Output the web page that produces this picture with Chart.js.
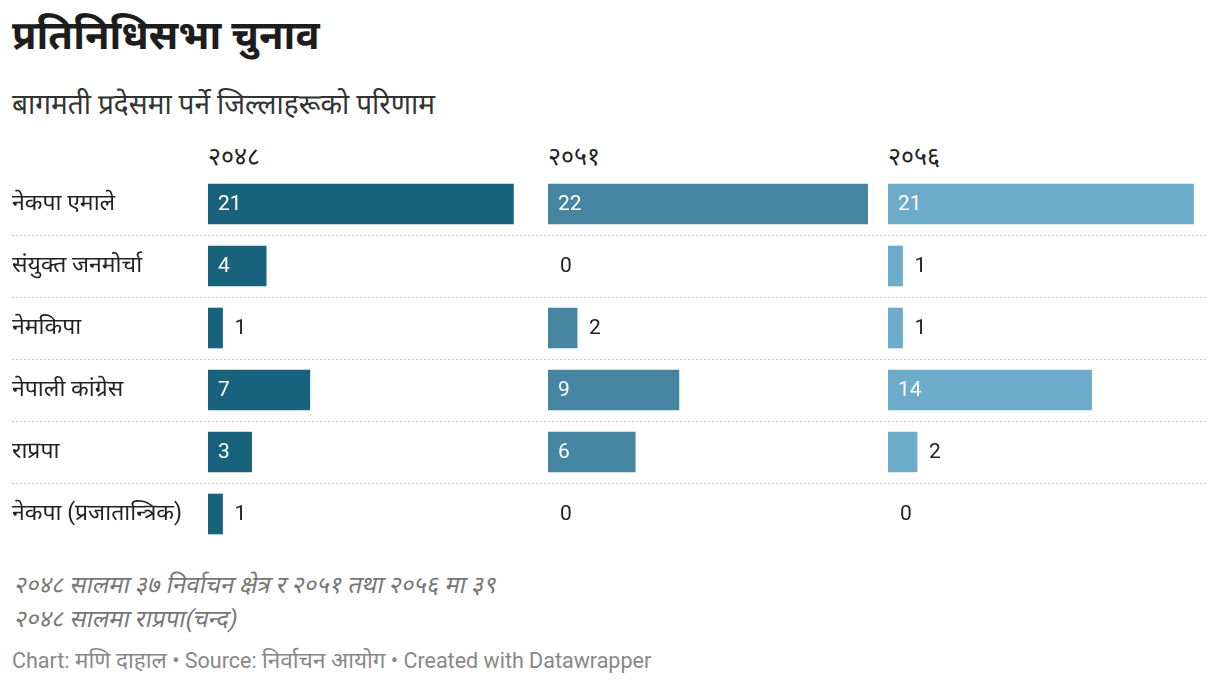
<!DOCTYPE html>
<html>
<head>
<meta charset="utf-8">
<script src="https://cdn.jsdelivr.net/npm/chart.js@4.4.1/dist/chart.umd.min.js"></script>
<style>
  html, body { margin:0; padding:0; background:#fff; width:1220px; height:686px; overflow:hidden; }
  body { font-family: Roboto, "Noto Sans Devanagari", "Noto Sans", sans-serif; color:#222; position:relative; }
  .abs { position:absolute; white-space:nowrap; }
  #title { left:12px; top:10px; font-size:40px; font-weight:700; line-height:52px; color:#1d1d1d; }
  #subtitle { left:12px; top:87px; font-size:28px; line-height:36px; color:#333; }
  .yr { top:142px; font-size:25px; line-height:30px; color:#222; }
  .note { left:12px; font-size:24px; color:#777; line-height:30px; transform: skewX(-12deg); transform-origin: left bottom; }
  #footer { left:12px; top:645px; font-size:21.5px; color:#888; line-height:30px; }
  #footer .dv { font-size:22.5px; }
  canvas { position:absolute; top:173px; }
</style>
</head>
<body>
<div id="title" class="abs">प्रतिनिधिसभा चुनाव</div>
<div id="subtitle" class="abs">बागमती प्रदेसमा पर्ने जिल्लाहरूको परिणाम</div>
<div id="yr0" class="abs yr" style="left:208px"></div>
<div id="yr1" class="abs yr" style="left:548px"></div>
<div id="yr2" class="abs yr" style="left:888px"></div>
<canvas id="c0" style="left:12px"></canvas>
<canvas id="c1" style="left:548px"></canvas>
<canvas id="c2" style="left:888px"></canvas>
<div class="abs note" style="top:570px">२०४८ सालमा ३७ निर्वाचन क्षेत्र र २०५१ तथा २०५६ मा ३९</div>
<div class="abs note" style="top:604px">२०४८ सालमा राप्रपा(चन्द)</div>
<div id="footer" class="abs">Chart: <span class="dv">मणि दाहाल</span> • Source: <span class="dv">निर्वाचन आयोग</span> • Created with Datawrapper</div>
<script>
const categories = ['नेकपा एमाले', 'संयुक्त जनमोर्चा', 'नेमकिपा', 'नेपाली कांग्रेस', 'राप्रपा', 'नेकपा (प्रजातान्त्रिक)'];
const years = ['२०४८', '२०५१', '२०५६'];
const seats2048 = [21, 4, 1, 7, 3, 1];
const seats2051 = [22, 0, 2, 9, 6, 0];
const seats2056 = [21, 1, 1, 14, 2, 0];
const xMax = 22;

const seriesList = [seats2048, seats2051, seats2056];
const colors = ['#19627d', '#4585a1', '#6cacca'];
const canvasWidths = [536, 340, 320];
const padRight = [20, 20, 0];

years.forEach((y, i) => { document.getElementById('yr' + i).textContent = y; });

const separatorPlugin = {
  id: 'separators',
  beforeDatasetsDraw(chart) {
    const ctx = chart.ctx;
    const ys = chart.scales.y;
    ctx.save();
    ctx.strokeStyle = '#c8c8c8';
    ctx.lineWidth = 1;
    ctx.setLineDash([2, 2]);
    for (let k = 0; k < categories.length - 1; k++) {
      const yy = Math.round((ys.getPixelForValue(k) + ys.getPixelForValue(k + 1)) / 2) + 0.5;
      ctx.beginPath();
      ctx.moveTo(0, yy);
      ctx.lineTo(chart.width, yy);
      ctx.stroke();
    }
    ctx.restore();
  }
};

const valueLabelPlugin = {
  id: 'valueLabels',
  afterDatasetsDraw(chart) {
    const ctx = chart.ctx;
    const meta = chart.getDatasetMeta(0);
    const data = chart.data.datasets[0].data;
    ctx.save();
    ctx.font = '21px Roboto, sans-serif';
    ctx.textBaseline = 'middle';
    ctx.textAlign = 'left';
    meta.data.forEach((bar, idx) => {
      const v = data[idx];
      const p = bar.getProps(['x', 'y', 'base'], true);
      if (v >= 3) {
        ctx.fillStyle = '#ffffff';
        ctx.fillText(String(v), p.base + 10, p.y + 1);
      } else {
        ctx.fillStyle = '#222222';
        ctx.fillText(String(v), p.x + 12, p.y + 1);
      }
    });
    ctx.restore();
  }
};

seriesList.forEach((series, i) => {
  const cv = document.getElementById('c' + i);
  cv.width = canvasWidths[i];
  cv.height = 372;
  cv.style.width = canvasWidths[i] + 'px';
  cv.style.height = '372px';
  new Chart(cv, {
    type: 'bar',
    data: {
      labels: categories,
      datasets: [{
        data: series,
        backgroundColor: (c) => (c.raw === 0 ? 'rgba(0,0,0,0)' : colors[i]),
        borderWidth: 0,
        barThickness: 40
      }]
    },
    options: {
      indexAxis: 'y',
      responsive: false,
      animation: false,
      layout: { padding: { left: 0, right: padRight[i], top: 0, bottom: 0 } },
      plugins: { legend: { display: false }, tooltip: { enabled: false }, title: { display: false } },
      scales: {
        x: { min: 0, max: xMax, display: false },
        y: {
          type: 'category',
          offset: true,
          display: i === 0,
          grid: { display: false, drawTicks: false },
          border: { display: false },
          ticks: {
            crossAlign: 'far',
            padding: 0,
            color: '#222',
            font: { size: 23, family: 'Roboto, "Noto Sans Devanagari", "Noto Sans", sans-serif' }
          },
          afterFit(scale) {
            if (i === 0) {
              scale.width = 196;
              scale.paddingTop = 0;
              scale.paddingBottom = 0;
            }
          }
        }
      }
    },
    plugins: [separatorPlugin, valueLabelPlugin]
  });
});
</script>
</body>
</html>
